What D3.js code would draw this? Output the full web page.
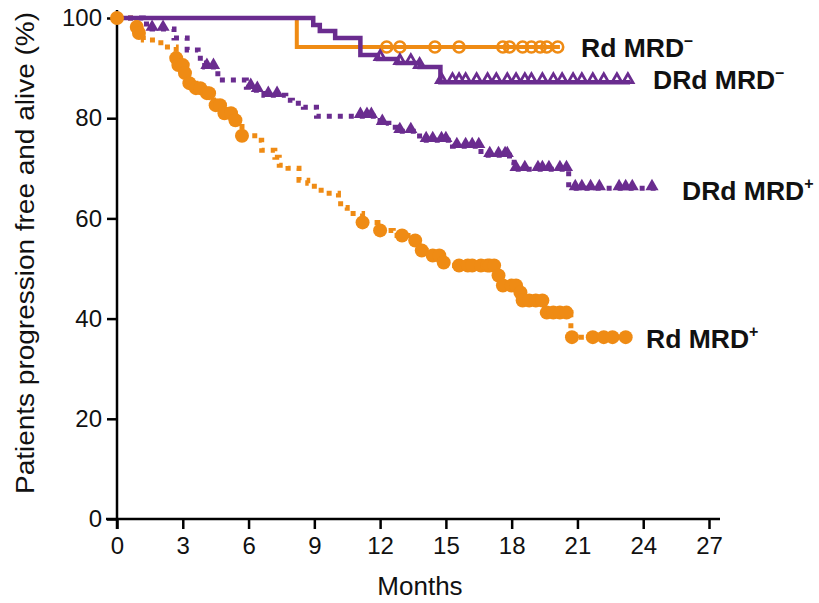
<!DOCTYPE html>
<html><head><meta charset="utf-8">
<script src="https://cdn.jsdelivr.net/npm/d3@7"></script>
<style>body{margin:0;background:#fff}svg{display:block}text{font-family:"Liberation Sans",Arial,sans-serif}</style>
</head><body><svg id="c" width="819" height="603"></svg>
<script>
// ---------- data ----------
const xTicks = [0,3,6,9,12,15,18,21,24,27];
const yTicks = [0,20,40,60,80,100];
const seriesNames = ["Rd MRD", "DRd MRD", "DRd MRD", "Rd MRD"];
const seriesSup = ["–", "–", "+", "+"];

// Rd MRD– (orange, solid, open circles)
const rdNegT = [0, 8.2];
const rdNegS = [100, 94.2];
const rdNegEnd = 20.2;
const rdNegCens = [12.3, 12.9, 14.5, 15.6, 17.6, 17.9, 18.5, 18.9, 19.3, 19.6, 20.1];

// DRd MRD– (purple, solid, open triangles)
const drdNegT = [0, 8.95, 9.25, 9.95, 11.1, 11.9, 12.8, 13.8, 14.75];
const drdNegS = [100, 98.6, 97.4, 96.0, 92.6, 91.8, 91.0, 90.2, 87.2];
const drdNegEnd = 23.4;
const drdNegCens = [12.0, 12.9, 13.4, 13.8, 14.8, 15.3, 15.6, 15.9, 16.4, 16.9, 17.3, 17.8, 18.2, 18.6, 18.9, 19.4, 19.9, 20.3, 20.8, 21.2, 21.7, 22.2, 22.8, 23.3];

// DRd MRD+ (purple, dotted, filled triangles)
const drdPosT = [0, 1.2, 1.6, 2.6, 3.2, 3.7, 3.8, 4.0, 4.6, 5.9, 6.2, 6.7, 7.7, 8.0, 8.5, 9.1, 12.0, 12.4, 12.8, 13.8, 15.3, 16.6, 17.9, 18.1, 20.6];
const drdPosS = [100, 98.8, 97.8, 96.0, 93.6, 92.5, 91.0, 90.2, 87.6, 86.2, 85.6, 84.6, 83.6, 83.0, 82.2, 80.4, 79.0, 78.2, 77.4, 75.6, 74.4, 72.6, 71.2, 69.8, 66.0];
const drdPosEnd = 24.6;
const drdPosCens = [1.6, 2.1, 4.1, 4.4, 6.1, 6.4, 6.9, 7.3, 11.1, 11.4, 11.6, 12.1, 12.9, 13.4, 14.1, 14.4, 14.8, 15.0, 15.5, 15.9, 16.2, 16.5, 17.0, 17.4, 17.7, 17.8, 18.2, 18.6, 19.2, 19.4, 19.7, 20.2, 20.5, 20.9, 21.2, 21.6, 22.0, 22.9, 23.2, 23.5, 24.4];

// Rd MRD+ (orange, dotted, filled circles)
const rdPosT = [0, 0.9, 1.0, 1.2, 2.0, 2.7, 2.8, 3.1, 3.2, 3.6, 3.9, 4.4, 4.8, 5.3, 5.7, 6.4, 6.6, 7.2, 7.4, 7.8, 8.3, 8.7, 9.0, 9.5, 10.1, 10.2, 10.5, 11.2, 11.9, 12.6, 13.5, 13.8, 14.3, 14.8, 15.4, 17.3, 17.6, 18.4, 18.5, 19.5, 20.7];
const rdPosS = [100, 98.2, 97.0, 95.6, 94.2, 92.0, 90.6, 89.0, 87.0, 86.0, 85.0, 82.6, 81.0, 79.6, 76.5, 75.6, 73.6, 72.2, 70.6, 70.0, 67.6, 67.0, 65.6, 65.0, 64.0, 62.2, 61.0, 59.2, 57.6, 56.6, 55.6, 53.6, 52.6, 51.2, 50.6, 48.6, 46.6, 45.2, 43.6, 41.2, 36.3];
const rdPosEnd = 23.3;
const rdPosCens = [0, 0.9, 1.0, 2.7, 2.8, 3.0, 3.1, 3.3, 3.6, 3.8, 4.1, 4.2, 4.5, 4.7, 4.9, 5.2, 5.4, 5.7, 11.2, 12.0, 13.0, 13.6, 13.9, 14.4, 14.7, 14.9, 15.6, 16.0, 16.2, 16.6, 16.9, 17.0, 17.2, 17.4, 17.6, 18.0, 18.2, 18.4, 18.5, 18.8, 19.1, 19.4, 19.6, 19.9, 20.2, 20.5, 20.75, 21.7, 22.2, 22.6, 23.2];

// ---------- chart ----------
const ORANGE = "#EF8B14", PURPLE = "#6A2C8F";
const svg = d3.select("#c");
const x = d3.scaleLinear().domain([0,27]).range([117,709]);
const y = d3.scaleLinear().domain([0,100]).range([519,18]);

function pts(T,S,end){ const p=T.map((t,i)=>[t,S[i]]); p.push([end,S[S.length-1]]); return p; }
function survAt(T,S,t){ const i=d3.bisectRight(T,t)-1; return S[Math.max(0,i)]; }
const line = d3.line().x(d=>x(d[0])).y(d=>y(d[1])).curve(d3.curveStepAfter);

// axes
const gx = svg.append("g").attr("transform","translate(0,519)")
  .call(d3.axisBottom(x).tickValues(xTicks).tickSize(10).tickSizeOuter(0).tickPadding(8));
const gy = svg.append("g").attr("transform","translate(117,0)")
  .call(d3.axisLeft(y).tickValues(yTicks).tickSize(10).tickSizeOuter(0).tickPadding(5));
[gx,gy].forEach(g=>{
  g.selectAll("path.domain").remove();
  g.selectAll("line").attr("stroke","#000").attr("stroke-width",2.5);
  g.selectAll("text").attr("fill","#111").style("font-size","24px").style("font-family","'Liberation Sans',Arial,sans-serif");
});
gx.selectAll("text").attr("dy","0.71em");
svg.append("line").attr("x1",106).attr("x2",720).attr("y1",519).attr("y2",519).attr("stroke","#000").attr("stroke-width",2.5);
svg.append("line").attr("x1",117).attr("x2",117).attr("y1",529).attr("y2",10).attr("stroke","#000").attr("stroke-width",2.5);

svg.append("text").attr("x",420).attr("y",595).attr("text-anchor","middle").style("font-size","26px").attr("fill","#111").text("Months");
svg.append("text").attr("transform","translate(34,253) rotate(-90)").attr("text-anchor","middle")
  .style("font-size","25px").attr("fill","#111")
  .attr("textLength",482).attr("lengthAdjust","spacingAndGlyphs")
  .text("Patients progression free and alive (%)");

// curves
const gc = svg.append("g");
gc.append("path").attr("d",line(pts(rdPosT,rdPosS,rdPosEnd))).attr("fill","none").attr("stroke",ORANGE).attr("stroke-width",5).attr("stroke-dasharray","5,6");
gc.append("path").attr("d",line(pts(drdPosT,drdPosS,drdPosEnd))).attr("fill","none").attr("stroke",PURPLE).attr("stroke-width",5).attr("stroke-dasharray","5,6");
gc.append("path").attr("d",line(pts(rdNegT,rdNegS,rdNegEnd))).attr("fill","none").attr("stroke",ORANGE).attr("stroke-width",4);
gc.append("path").attr("d",line(pts(drdNegT,drdNegS,drdNegEnd))).attr("fill","none").attr("stroke",PURPLE).attr("stroke-width",4.5);

// censor marks
const tri = d3.symbol().type(d3.symbolTriangle);
gc.selectAll(".c1").data(drdPosCens).join("path")
  .attr("d",tri.size(75)()).attr("fill",PURPLE)
  .attr("transform",d=>`translate(${x(d)},${y(survAt(drdPosT,drdPosS,d))-2})`);
gc.selectAll(".c2").data(rdNegCens).join("circle")
  .attr("cx",d=>x(d)).attr("cy",d=>y(survAt(rdNegT,rdNegS,d))).attr("r",5.5)
  .attr("fill","none").attr("stroke",ORANGE).attr("stroke-width",2.6);
gc.selectAll(".c3").data(drdNegCens).join("path")
  .attr("d",tri.size(45)()).attr("fill","none").attr("stroke",PURPLE).attr("stroke-width",2.8)
  .attr("transform",d=>`translate(${x(d)},${y(survAt(drdNegT,drdNegS,d))-2.5})`);
gc.selectAll(".c4").data(rdPosCens).join("circle")
  .attr("cx",d=>x(d)).attr("cy",d=>y(survAt(rdPosT,rdPosS,d))).attr("r",7)
  .attr("fill",ORANGE);

// labels
const labPos = [[581,57],[653,89],[682,200],[646,348]];
labPos.forEach((p,i)=>{
  const t = svg.append("text").attr("x",p[0]).attr("y",p[1]).style("font-size","26.5px").style("font-weight","bold").attr("fill","#111");
  t.append("tspan").text(seriesNames[i]);
  t.append("tspan").attr("dy",-11).style("font-size","16px").text(seriesSup[i]);
});
</script></body></html>
